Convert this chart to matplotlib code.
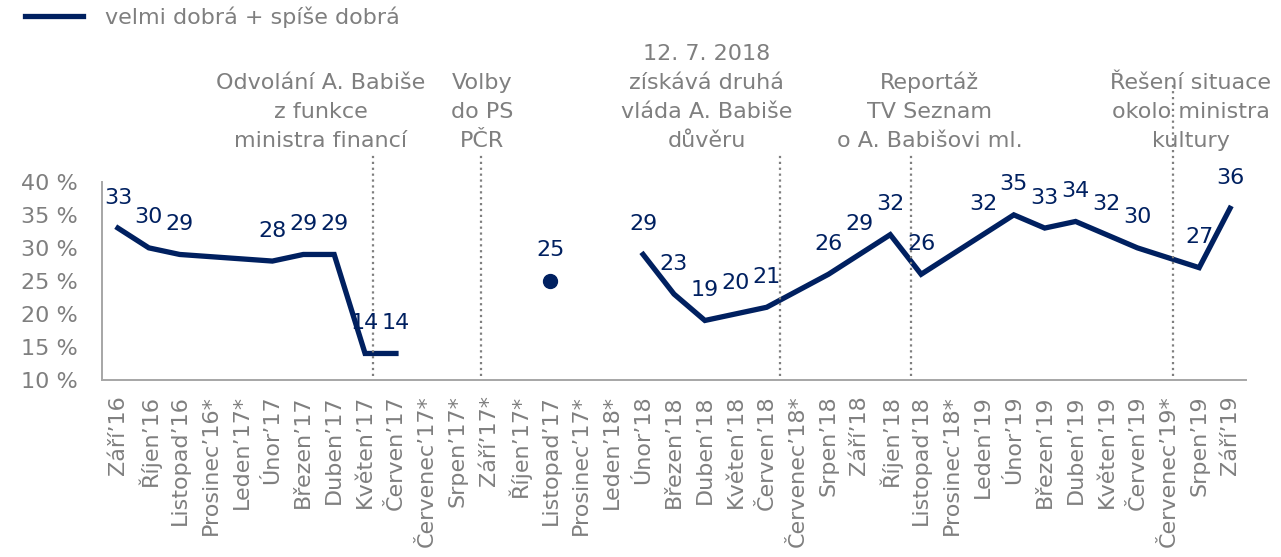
import numpy as np
import matplotlib
matplotlib.use("Agg")
import matplotlib.pyplot as plt

plt.rcParams['font.family'] = ['DejaVu Sans']

# data
months = ['Září’16', 'Říjen’16', 'Listopad’16', 'Prosinec’16*', 'Leden’17*', 'Únor’17',
          'Březen’17', 'Duben’17', 'Květen’17', 'Červen’17', 'Červenec’17*', 'Srpen’17*',
          'Září’17*', 'Říjen’17*', 'Listopad’17', 'Prosinec’17*', 'Leden’18*', 'Únor’18',
          'Březen’18', 'Duben’18', 'Květen’18', 'Červen’18', 'Červenec’18*', 'Srpen’18',
          'Září’18', 'Říjen’18', 'Listopad’18', 'Prosinec’18*', 'Leden’19', 'Únor’19',
          'Březen’19', 'Duben’19', 'Květen’19', 'Červen’19', 'Červenec’19*', 'Srpen’19',
          'Září’19']
values = [33, 30, 29, None, None, 28,
          29, 29, 14, 14, None, None,
          None, None, 25, None, None, 29,
          23, 19, 20, 21, None, 26,
          29, 32, 26, None, 32, 35,
          33, 34, 32, 30, None, 27,
          36]
# the line is interrupted after these months
breaks_after = ['Červen’17', 'Listopad’17']
single_point = 'Listopad’17'

series_label = 'velmi dobrá + spíše dobrá'
y_ticks = [10, 15, 20, 25, 30, 35, 40]

# events: (position on month axis, text x, text)
events = [
    (8.25, 6.57, 'Odvolání A. Babiše\nz funkce\nministra financí'),
    (11.75, 11.78, 'Volby\ndo PS\nPČR'),
    (21.42, 19.06, '12. 7. 2018\nzískává druhá\nvláda A. Babiše\ndůvěru'),
    (25.66, 26.28, 'Reportáž\nTV Seznam\no A. Babišovi ml.'),
    (34.14, 34.72, 'Řešení situace\nokolo ministra\nkultury'),
]

navy = '#002060'
grey = '#7f7f7f'
fs = 16

fig = plt.figure(figsize=(12.81, 5.57), dpi=100)
ax = fig.add_axes([0.080, 0.318, 0.8923, 0.3555])

# build line with breaks
xs, ys = [], []
for i, (m, v) in enumerate(zip(months, values)):
    if v is None:
        continue
    xs.append(i)
    ys.append(v)
    if m in breaks_after:
        xs.append(np.nan)
        ys.append(np.nan)

ax.plot(xs, ys, color=navy, linewidth=3.8, solid_joinstyle='miter', label=series_label)
sp = months.index(single_point)
ax.plot([sp], [values[sp]], 'o', color=navy, markersize=10)

# data labels
for i, v in enumerate(values):
    if v is None:
        continue
    ax.annotate(str(v), (i, v), xytext=(0, 22), textcoords='offset points',
                ha='center', va='center', color=navy, fontsize=fs)

# event lines and texts
for xpos, tx, txt in events:
    top = 1.5 if xpos > 34 else 1.14
    ax.axvline(xpos, ymin=0.02, ymax=top, color=grey, linestyle=':', linewidth=1.6,
               clip_on=False)
    ax.text(tx, 45.3, txt, ha='center', va='baseline', color=grey, fontsize=fs,
            linespacing=1.55, multialignment='center', clip_on=False)

ax.set_xlim(-0.5, len(months) - 0.5)
ax.set_ylim(10, 40)
ax.set_xticks(range(len(months)))
ax.set_xticklabels(months, rotation=90, fontsize=fs, color=grey)
ax.set_yticks(y_ticks)
ax.set_yticklabels([f'{t} %' for t in y_ticks], fontsize=fs, color=grey)
ax.tick_params(axis='both', length=0)
ax.tick_params(axis='x', pad=11)
ax.tick_params(axis='y', pad=18)

for s in ['top', 'right']:
    ax.spines[s].set_visible(False)
for s in ['left', 'bottom']:
    ax.spines[s].set_color('#a6a6a6')
    ax.spines[s].set_linewidth(1.4)

leg = ax.legend(loc='upper left', bbox_to_anchor=(25 / 1281, 1 - 6 / 557),
                bbox_transform=fig.transFigure, frameon=False, fontsize=fs,
                handlelength=2.6, handletextpad=1.0, borderpad=0, borderaxespad=0,
                labelcolor=grey)

fig.savefig('out.png', dpi=100)
